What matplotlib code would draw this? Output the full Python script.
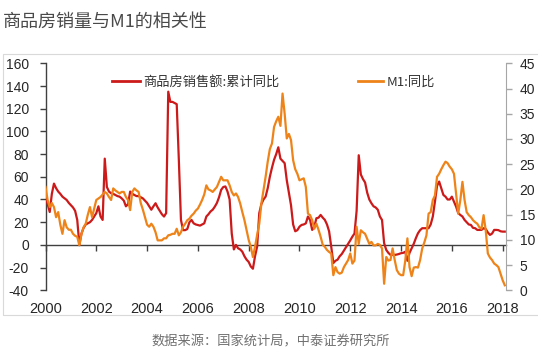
import numpy as np
import matplotlib
matplotlib.use("Agg")
import matplotlib.pyplot as plt
from matplotlib.patches import Rectangle
from matplotlib.lines import Line2D

# ---------------- data (monthly, 2000-01 .. 2018-02) ----------------
start_year = 2000
sales_label = "商品房销售额:累计同比"
m1_label = "M1:同比"
title = "商品房销量与M1的相关性"
source = "数据来源：国家统计局，中泰证券研究所"

sales_yoy = [
    42, 36, 29, 45, 54, 50, 47, 45, 42.5, 41, 39.6, 37,          # 2000
    35, 33, 30, 22, 0, 10, 15, 18, 19, 20, 22, 25,               # 2001
    28, 34, 25, 22, 76, 51, 47, 45.5, 45, 44, 43, 42.5,          # 2002
    41, 39, 34, 36, 47, 45, 44, 43, 43, 42, 41, 39,              # 2003
    37, 34, 31, 34, 36.7, 33, 30, 27, 25, 28, 135, 126,          # 2004
    126, 125, 124, 75, 22, 13, 13, 14, 20, 22, 19, 18,           # 2005
    17.5, 17, 18, 19, 25, 27, 29.5, 31, 33.7, 37, 42, 48.5,      # 2006
    51, 51.5, 47, 40, 10, -4, 0, -3, -4, -6, -10, -13,           # 2007
    -15, -19, -21, -10, -1.5, 28, 36, 40, 42.5, 50, 60, 68,      # 2008
    75, 80, 86, 76, 74, 72, 57, 46, 35, 18, 12, 13,              # 2009
    16, 17.6, 18, 19, 25, 22, 13.2, 16, 23.5, 24, 26.4, 24,      # 2010
    22, 18, 12, -1.5, -16, -14, -13, -10, -8, -5, -2, 1,         # 2011
    4, 7.3, 10, 30, 79, 62, 58, 55, 46, 40, 36.7, 34,            # 2012
    33, 31, 25, 22, 1.5, -4.4, -7, -8.8, -8.8, -8.8, -8.5, -8,   # 2013
    -7.3, -7, -6, -14, -7, -3, 1, 6, 10.3, 13, 14.7, 14.7,       # 2014
    14.7, 14.7, 18, 25, 38, 52, 55.8, 50, 44, 42.5, 40, 40,      # 2015
    42.5, 38, 33.7, 28, 26.4, 25, 22, 20, 18, 17.6, 15, 14.7,    # 2016
    13.2, 13.2, 13.2, 14.7, 14, 11, 8.8, 10, 13.2, 13.2, 13, 12, # 2017
    11.7, 11.7,                                                  # 2018
]

m1_yoy = [
    20.5, 17.9, 16.5, 17.3, 16.5, 14.5, 15.5, 13, 11.2, 13.9, 12.5, 12,   # 2000
    12, 11.2, 10.8, 10.6, 8.9, 11.2, 12.5, 13.2, 15, 16.5, 14.5, 16.2,    # 2001
    17.9, 18.2, 18.5, 19, 19.5, 19.2, 18.5, 17.9, 20.2, 19.8, 19.5, 19.2, # 2002
    19.5, 19.5, 18.5, 17.9, 15.9, 19.5, 20.2, 19.8, 19.5, 17.3, 16, 14.5, # 2003
    13, 12.6, 13.2, 12.6, 11.5, 9.9, 9.9, 9.9, 10.3, 10.3, 10.9, 11,      # 2004
    11.2, 11.2, 12.2, 10.9, 11.5, 12.6, 13.2, 13.9, 14.2, 14.8, 15.2, 15.8,  # 2005
    16.2, 17, 17.9, 19, 20.8, 20, 19.8, 19.5, 20, 20.5, 21.5, 22.5,       # 2006
    21.8, 21.8, 21.8, 20.8, 19.5, 18.8, 19.2, 18.5, 17.2, 15.5, 13.9, 11.9,  # 2007
    10, 8.6, 6.6, 8.6, 11, 13.2, 17.2, 19.8, 22.5, 25.5, 28, 29.1,        # 2008
    32.4, 33.5, 34.4, 32.6, 39, 35, 30.1, 31, 29.8, 25.8, 24, 23.1,       # 2009
    21.8, 22, 22.2, 20.5, 15.2, 14.9, 13.9, 12.2, 13.2, 12, 10.6, 9,      # 2010
    8.6, 8, 7.6, 7.3, 3.0, 4.6, 3.6, 3.3, 3.5, 4.6, 5.3, 6,               # 2011
    7.3, 5.3, 5.9, 12.6, 9.2, 11.9, 11.5, 11.2, 10.2, 9.2, 9.6, 8.9,      # 2012
    8.9, 9.2, 9, 8.3, 1.3, 6.6, 5.9, 6, 8.3, 6, 4, 3.3,                   # 2013
    3.0, 3.0, 5.9, 10.3, 4.6, 2.8, 4.5, 4.6, 4.5, 6, 8.3, 9.5,            # 2014
    10.9, 15.2, 15.5, 17.9, 18.8, 22.5, 23.1, 24, 24.8, 25.5, 25.2, 24.5, # 2015
    24, 23.1, 19.2, 15.2, 17.9, 21.5, 17.9, 15.5, 14.9, 14.5, 13.9, 13.5, # 2016
    13.2, 12.5, 12.2, 14.9, 11.9, 7.3, 6.5, 6.0, 5.3, 5, 4.6, 3.3,        # 2017
    2.0, 1.0,                                                             # 2018
]

x_ticks = list(range(2000, 2019, 2))
left_ticks = list(range(-40, 161, 20))
right_ticks = list(range(0, 46, 5))

# ---------------- styling ----------------
CJK = ["Noto Sans CJK SC", "DejaVu Sans"]
NUM = "Liberation Sans"
RED = "#CC1A1A"
ORANGE = "#EE8419"

W, H = 538, 357
fig = plt.figure(figsize=(W / 100, H / 100), dpi=100)

def fx(px):
    return px / W

def fy(py):
    return 1 - py / H

ax = fig.add_axes([fx(45.5), fy(290.3), fx(505.7) - fx(45.5), fy(63.3) - fy(290.3)])
ax2 = ax.twinx()

xs = start_year + np.arange(len(sales_yoy)) / 12.0
xm = start_year + np.arange(len(m1_yoy)) / 12.0

ax.plot(xs, sales_yoy, color=RED, lw=1.6, solid_joinstyle="round", zorder=3)
ax2.plot(xm, m1_yoy, color=ORANGE, lw=1.6, solid_joinstyle="round", zorder=3)

ax.set_xlim(x_ticks[0], x_ticks[-1] + 0.12)
ax.set_ylim(left_ticks[0], left_ticks[-1])
ax2.set_ylim(right_ticks[0], right_ticks[-1])

# left axis
ax.set_yticks(left_ticks)
ax.set_yticklabels([str(v) for v in left_ticks], fontfamily=NUM, fontsize=10, color="#262626")
ax.tick_params(axis="y", direction="out", length=4, width=1, color="#404040", pad=8)
ax.spines["left"].set_color("#404040")
ax.spines["left"].set_linewidth(1)
for s in ("top", "right"):
    ax.spines[s].set_visible(False)

# zero line with ticks, labels at bottom via secondary axis
ax.spines["bottom"].set_position(("data", 0))
ax.spines["bottom"].set_color("#404040")
ax.spines["bottom"].set_linewidth(1)
ax.set_xticks(x_ticks)
ax.tick_params(axis="x", direction="out", length=4, width=1, color="#404040", labelbottom=False)

sec = ax.secondary_xaxis("bottom")
sec.set_xticks(x_ticks)
sec.set_xticklabels([str(v) for v in x_ticks], fontfamily=NUM, fontsize=10.5, color="#262626")
sec.tick_params(axis="x", length=0, pad=8.5)
sec.spines["bottom"].set_visible(False)

# right axis
ax2.set_yticks(right_ticks)
ax2.set_yticklabels([str(v) for v in right_ticks], fontfamily=NUM, fontsize=10, color="#262626")
ax2.tick_params(axis="y", direction="out", length=4, width=1, color="#a6a6a6", pad=6)
ax2.spines["right"].set_color("#a6a6a6")
for s in ("top", "left", "bottom"):
    ax2.spines[s].set_visible(False)

# legends
h1 = Line2D([], [], color=RED, lw=2)
h2 = Line2D([], [], color=ORANGE, lw=2)
leg1 = fig.legend([h1], [sales_label], loc="center left",
                  bbox_to_anchor=(fx(112), fy(82)), frameon=False,
                  prop={"family": CJK, "size": 9.5}, handlelength=2.1,
                  handletextpad=0.25, borderpad=0, borderaxespad=0)
leg2 = fig.legend([h2], [m1_label], loc="center left",
                  bbox_to_anchor=(fx(358), fy(82)), frameon=False,
                  prop={"family": CJK, "size": 9.5}, handlelength=1.9,
                  handletextpad=0.25, borderpad=0, borderaxespad=0)
for lg in (leg1, leg2):
    for t in lg.get_texts():
        t.set_color("#333333")

# title, source, frame
fig.text(fx(3), fy(22), title, family=CJK, fontsize=13, color="#4a4a4a",
         ha="left", va="center")
fig.text(fx(271), fy(342), source, family=CJK, fontsize=9.5, color="#707070",
         ha="center", va="center")
fig.add_artist(Rectangle((fx(2.5), fy(315)), fx(545) - fx(2.5), fy(54) - fy(315),
                         transform=fig.transFigure, fill=False,
                         edgecolor="#d9d9d9", lw=0.8))

fig.savefig("out.png", dpi=100)
